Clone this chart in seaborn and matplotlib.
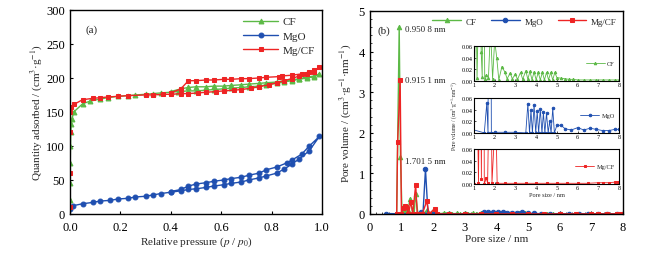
import matplotlib
matplotlib.use('Agg')
import matplotlib.pyplot as plt
import seaborn as sns
import numpy as np

# ---- (a) N2 isotherms: adsorption then desorption branch ----
cf_p = [0.0, 0.0005, 0.001, 0.002, 0.003, 0.005, 0.008, 0.015, 0.05, 0.08, 0.12, 0.15, 0.19, 0.23, 0.26,
        0.30, 0.33, 0.36, 0.40, 0.43, 0.47, 0.50, 0.54, 0.57, 0.61, 0.64, 0.68, 0.71, 0.75, 0.78, 0.82,
        0.85, 0.88, 0.91, 0.94, 0.97, 0.99,
        0.97, 0.94, 0.91, 0.88, 0.85, 0.82, 0.78, 0.75, 0.71, 0.68, 0.64, 0.61, 0.57, 0.54, 0.50, 0.47, 0.44, 0.40]
cf_q = [20, 45, 75, 100, 120, 132, 140, 150, 162, 166, 169, 171, 173, 174, 175,
        176, 177, 178, 179, 180, 181, 181, 182, 183, 184, 185, 186, 187, 188, 190, 192,
        194, 196, 198, 200, 202, 206,
        203, 201, 199, 197, 196, 194, 193, 192, 191, 190, 189, 188, 188, 187, 187, 186, 184, 180]

mgo_p = [0.0, 0.01, 0.05, 0.09, 0.12, 0.16, 0.19, 0.23, 0.26, 0.30, 0.33, 0.36, 0.40, 0.44, 0.47, 0.50,
         0.54, 0.57, 0.61, 0.64, 0.68, 0.71, 0.75, 0.78, 0.82, 0.85, 0.88, 0.91, 0.95, 0.99,
         0.95, 0.92, 0.88, 0.86, 0.82, 0.78, 0.75, 0.71, 0.68, 0.64, 0.61, 0.57, 0.54, 0.50, 0.47, 0.44, 0.40]
mgo_q = [8, 12, 15, 17, 19, 20, 22, 23, 25, 26, 28, 30, 32, 34, 36, 37,
         39, 41, 43, 45, 47, 50, 53, 56, 60, 66, 73, 81, 93, 114,
         100, 88, 79, 75, 69, 65, 60, 57, 54, 52, 50, 48, 46, 44, 41, 36, 33]

mgcf_p = [0.0, 0.0005, 0.001, 0.002, 0.005, 0.015, 0.05, 0.09, 0.12, 0.15, 0.19, 0.23, 0.30, 0.33, 0.37,
          0.40, 0.44, 0.47, 0.51, 0.54, 0.58, 0.61, 0.65, 0.68, 0.72, 0.75, 0.79, 0.82, 0.85, 0.88,
          0.91, 0.94, 0.97, 0.99,
          0.97, 0.95, 0.92, 0.88, 0.84, 0.83, 0.78, 0.75, 0.71, 0.68, 0.64, 0.61, 0.57, 0.54, 0.50,
          0.47, 0.44, 0.40]
mgcf_q = [10, 60, 120, 150, 157, 161, 168, 170, 171, 172, 173, 174, 175, 175, 176,
          176, 177, 177, 178, 179, 180, 181, 182, 183, 185, 187, 190, 193, 196, 199,
          203, 206, 209, 216,
          211, 209, 206, 204, 203, 202, 201, 200, 199, 199, 198, 198, 197, 197, 196,
          196, 184, 178]

# ---- (b) pore size distributions ----
cf_d = [0.85, 0.93, 0.97, 1.02, 1.06, 1.1, 1.15, 1.2, 1.28, 1.35, 1.4, 1.45, 1.52, 1.6, 1.7, 1.8, 1.9,
        2.0, 2.1, 2.2, 2.35, 2.5, 2.6, 2.75, 2.85, 3.0, 3.1, 3.25, 3.35, 3.5, 3.6, 3.7, 3.8, 3.9, 4.0,
        4.1, 4.2, 4.3, 4.4, 4.5, 4.6, 4.7, 4.8, 4.9, 5.0, 5.2, 5.4, 5.6, 5.8, 6.0, 6.3, 6.6, 6.9,
        7.2, 7.5, 7.8, 8.0]
cf_v = [0.0, 4.6, 1.4, 0.0, 0.08, 0.15, 0.005, 0.09, 0.38, 0.05, 0.007, 0.5, 0.004, 0.01, 0.006, 0.09,
        0.004, 0.07, 0.04, 0.002, 0.025, 0.015, 0.004, 0.014, 0.004, 0.012, 0.003, 0.015, 0.003, 0.018,
        0.003, 0.017, 0.002, 0.016, 0.002, 0.015, 0.002, 0.015, 0.002, 0.015, 0.002, 0.015, 0.002,
        0.015, 0.006, 0.005, 0.004, 0.003, 0.003, 0.002, 0.002, 0.002, 0.002, 0.002, 0.002, 0.002,
        0.002]

mgo_d = [0.5, 1.5, 1.62, 1.68, 1.76, 1.84, 2.0, 2.5, 3.0, 3.5, 3.6, 3.68, 3.75, 3.82, 3.9, 3.98, 4.05,
         4.12, 4.2, 4.28, 4.35, 4.42, 4.5, 4.58, 4.65, 4.72, 4.8, 4.88, 5.0, 5.2, 5.4, 5.7, 6.0, 6.3,
         6.6, 6.9, 7.2, 7.5, 7.8, 8.0]
mgo_v = [0.01, 0.0, 0.051, 0.0, 1.1, 0.0, 0.001, 0.001, 0.001, 0.0, 0.05, 0.0, 0.039, 0.0, 0.048, 0.0,
         0.037, 0.0, 0.041, 0.0, 0.035, 0.0, 0.034, 0.0, 0.02, 0.0, 0.042, 0.0, 0.013, 0.013, 0.007,
         0.005, 0.009, 0.005, 0.008, 0.006, 0.004, 0.004, 0.006, 0.006]

mgcf_d = [0.85, 0.88, 0.96, 1.0, 1.05, 1.1, 1.15, 1.22, 1.3, 1.36, 1.45, 1.5, 1.6, 1.66, 1.8, 1.87,
          2.05, 2.12, 2.5, 3.0, 3.5, 4.0, 4.5, 5.0, 5.5, 6.0, 6.5, 7.0, 7.2, 7.5, 7.8, 7.95]
mgcf_v = [0.0, 1.77, 3.3, 0.0, 0.15, 0.2, 0.18, 0.002, 0.3, 0.008, 0.72, 0.0, 0.01, 0.001, 0.32, 0.001,
          0.13, 0.001, 0.001, 0.001, 0.001, 0.001, 0.001, 0.001, 0.001, 0.001, 0.001, 0.002, 0.002,
          0.002, 0.003, 0.004]

labels = ['CF', 'MgO', 'Mg/CF']
colors = ['#5cb946', '#1f4fb0', '#ee2424']
markers = ['^', 'o', 's']

sns.set_theme(style='ticks')
plt.rcParams['font.family'] = ['Liberation Serif', 'DejaVu Serif']
plt.rcParams['mathtext.fontset'] = 'stix'
plt.rcParams['xtick.direction'] = 'in'
plt.rcParams['ytick.direction'] = 'in'
plt.rcParams['axes.edgecolor'] = 'black'
plt.rcParams['axes.linewidth'] = 1.0

fig = plt.figure(figsize=(6.51, 2.55), dpi=100)
ax1 = fig.add_axes([0.1075, 0.157, 0.387, 0.80])
ax2 = fig.add_axes([0.568, 0.157, 0.389, 0.796])

iso = [(cf_p, cf_q), (mgo_p, mgo_q), (mgcf_p, mgcf_q)]
for (x, y), lab, c, m in zip(iso, labels, colors, markers):
    sns.lineplot(x=x, y=y, ax=ax1, sort=False, estimator=None, color=c, marker=m,
                 markersize=3.5, markeredgecolor=c, linewidth=1.0, label=lab)
ax1.set_xlim(0, 1.0)
ax1.set_ylim(0, 300)
ax1.set_xticks(np.arange(0, 1.01, 0.2))
ax1.set_xticklabels(['0.0', '0.2', '0.4', '0.6', '0.8', '1.0'])
ax1.set_yticks(np.arange(0, 301, 50))
ax1.tick_params(labelsize=9, length=2.5, width=0.8, colors='black')
ax1.tick_params(axis='x', pad=5)
ax1.set_xlabel('Relative pressure ($p$ / $p_0$)', fontsize=8, labelpad=1)
ax1.set_ylabel('Quantity adsorbed / (cm$^3$·g$^{-1}$)', fontsize=8, labelpad=2)
ax1.text(0.06, 0.93, '(a)', transform=ax1.transAxes, fontsize=8, va='top')
ax1.legend(loc='upper right', frameon=False, fontsize=8, handlelength=3.2,
           borderaxespad=0.2, labelspacing=0.4, handletextpad=0.4)

psd = [(cf_d, cf_v), (mgo_d, mgo_v), (mgcf_d, mgcf_v)]
for (x, y), lab, c, m in zip(psd, labels, colors, markers):
    sns.lineplot(x=x, y=y, ax=ax2, sort=False, estimator=None, color=c, marker=m,
                 markersize=3.2, markeredgecolor=c, linewidth=1.0, label=lab)
ax2.set_xlim(0, 8)
ax2.set_ylim(0, 5)
ax2.set_xticks(range(0, 9))
ax2.set_yticks(range(0, 6))
ax2.minorticks_on()
ax2.tick_params(labelsize=9, length=2.5, width=0.8, colors='black')
ax2.tick_params(axis='x', pad=5)
ax2.tick_params(which='minor', length=1.5, width=0.6)
ax2.set_xlabel('Pore size / nm', fontsize=8, labelpad=1)
ax2.set_ylabel('Pore volume / (cm$^3$·g$^{-1}$·nm$^{-1}$)', fontsize=8, labelpad=4)
ax2.text(0.03, 0.93, '(b)', transform=ax2.transAxes, fontsize=8, va='top')
ax2.text(1.1, 4.55, '0.950 8 nm', fontsize=6.5, va='center')
ax2.text(1.1, 3.3, '0.915 1 nm', fontsize=6.5, va='center')
ax2.text(1.1, 1.3, '1.701 5 nm', fontsize=6.5, va='center')
ax2.legend(loc='upper right', frameon=False, fontsize=6.5, ncol=3, handlelength=3.2,
           borderaxespad=0.3, columnspacing=1.6, handletextpad=0.5)

inset_pos = [0.678, 0.475, 0.275]
for i, ((x, y), lab, c, m) in enumerate(zip(psd, labels, colors, markers)):
    ai = fig.add_axes([0.728, inset_pos[i], 0.223, 0.137])
    sns.lineplot(x=x, y=y, ax=ai, sort=False, estimator=None, color=c, marker=m,
                 markersize=1.8, markeredgecolor=c, linewidth=0.6, label=lab)
    ai.set_xlim(1, 8)
    ai.set_ylim(0, 0.06)
    ai.set_xticks(range(1, 9))
    ai.set_yticks([0, 0.02, 0.04, 0.06])
    ai.set_yticklabels(['0.00', '0.02', '0.04', '0.06'])
    ai.tick_params(labelsize=4.5, length=1.5, width=0.5, pad=1, colors='black')
    for s in ai.spines.values():
        s.set_linewidth(0.8)
    ai.set_xlabel('Pore size / nm' if i == 2 else '', fontsize=4.5, labelpad=1)
    ai.set_ylabel('Pore volume / (cm$^3$·g$^{-1}$·nm$^{-1}$)' if i == 1 else '', fontsize=4, labelpad=1)
    ai.legend(loc='center right', frameon=False, fontsize=4.5, handlelength=3,
              borderaxespad=0.3, handletextpad=0.4)

fig.savefig('out.png', dpi=100)
